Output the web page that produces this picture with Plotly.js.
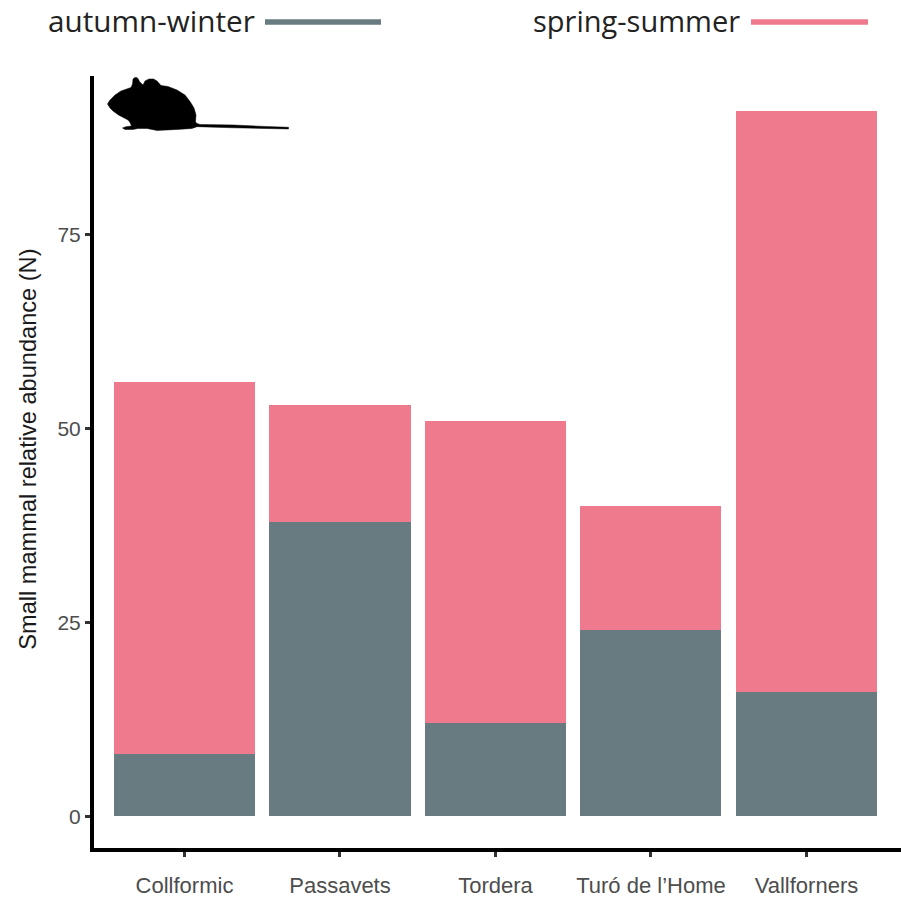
<!DOCTYPE html>
<html>
<head>
<meta charset="utf-8">
<script src="https://cdn.plot.ly/plotly-3.0.1.min.js"></script>
<style>html,body{margin:0;padding:0;background:#fff}</style>
</head>
<body>
<div id="chart" style="width:901px;height:898px"></div>
<script>
var sites = ["Collformic", "Passavets", "Tordera", "Turó de l’Home", "Vallforners"];
var autumnWinter = [8, 38, 12, 24, 16];
var springSummer = [48, 15, 39, 16, 75];
var yTicks = [0, 25, 50, 75];
var W = 901, H = 898;
var mL = 94, mR = 0, mT = 76, mB = 49.5;
var plotW = W - mL - mR, plotH = H - mT - mB;
var slate = "#687B80", pink = "#EF7A8D";
var sans = "Liberation Sans, Arial, sans-serif", legendFont = "Open Sans, sans-serif";

function px(x) { return (x - mL) / plotW; }
function py(y) { return 1 - (y - mT) / plotH; }

var mouse = "M107.5 104 L110 100 L115 95 L121 91 L131 87.5 L132.5 84 L133 79 L135 77.5 L136.5 77.5 L138 78.5 L139.5 81.5 L143 85 L145 81 L149 79 L153.5 79 L157 81 L161 85.5 L168 86.5 L177 90 L185 95 L190 101.5 L194 108 L196 115 L195.5 122 L197 123.5 L200 124.5 L233 125 L265 126.5 L288.5 127.3 L288.5 129 L265 128.5 L233 127.8 L197 126.7 L192 128.5 L177 129.5 L157 130.5 L147 128.5 L138 128.5 L133 129.5 L125 129.5 L122.5 128 L126 126.7 L131.5 126 L130 122.5 L128 120 L118.5 115 L113 111 L110 108 Z";
var svg = '<svg xmlns="http://www.w3.org/2000/svg" width="901" height="898" viewBox="0 0 901 898"><path d="' + mouse + '" fill="#000" stroke="#000" stroke-width="0.5" stroke-linejoin="round"/></svg>';

var traces = [
  {type: "bar", name: "autumn-winter", x: sites, y: autumnWinter, marker: {color: slate, line: {width: 0}}, showlegend: false},
  {type: "bar", name: "spring-summer", x: sites, y: springSummer, marker: {color: pink, line: {width: 0}}, showlegend: false}
];

var layout = {
  width: W, height: H,
  margin: {l: mL, r: mR, t: mT, b: mB, pad: 0},
  paper_bgcolor: "#fff", plot_bgcolor: "#fff",
  barmode: "stack", bargap: 0.093,
  showlegend: false,
  font: {family: sans},
  xaxis: {
    type: "category", range: [-0.582, 4.608], showgrid: false, zeroline: false,
    showline: true, linecolor: "#000", linewidth: 4,
    ticks: "outside", ticklen: 5, tickwidth: 3, tickcolor: "#333",
    ticklabelstandoff: 10,
    tickfont: {size: 22, color: "#4d4d4d", family: sans}
  },
  yaxis: {
    range: [-4.1, 95.45], showgrid: false, zeroline: false,
    showline: true, linecolor: "#000", linewidth: 4,
    tickmode: "array", tickvals: yTicks, ticktext: yTicks.map(String),
    ticks: "outside", ticklen: 5, tickwidth: 3, tickcolor: "#333",
    tickfont: {size: 21, color: "#4d4d4d", family: sans}
  },
  annotations: [
    {xref: "paper", yref: "paper", x: px(28), y: py(450), xanchor: "center", yanchor: "middle", textangle: -90,
     showarrow: false, text: "Small mammal relative abundance (N)", font: {size: 23.6, color: "#1a1a1a", family: sans}},
    {xref: "paper", yref: "paper", x: px(257), y: py(20), xanchor: "right", yanchor: "middle",
     showarrow: false, text: "autumn-winter", font: {size: 29.7, color: "#222", family: legendFont}},
    {xref: "paper", yref: "paper", x: px(742), y: py(20), xanchor: "right", yanchor: "middle",
     showarrow: false, text: "spring-summer", font: {size: 29, color: "#222", family: legendFont}}
  ],
  shapes: [
    {type: "line", xref: "paper", yref: "paper", x0: px(265), x1: px(381), y0: py(22), y1: py(22), line: {color: slate, width: 5.5}},
    {type: "line", xref: "paper", yref: "paper", x0: px(751), x1: px(868), y0: py(22), y1: py(22), line: {color: pink, width: 5.5}}
  ],
  images: [
    {source: "data:image/svg+xml;charset=utf-8," + encodeURIComponent(svg), xref: "paper", yref: "paper",
     x: px(0), y: py(0), sizex: W / plotW, sizey: H / plotH, xanchor: "left", yanchor: "top", sizing: "stretch", layer: "above"}
  ]
};
Plotly.newPlot("chart", traces, layout, {displayModeBar: false, staticPlot: true});
</script>
</body>
</html>
